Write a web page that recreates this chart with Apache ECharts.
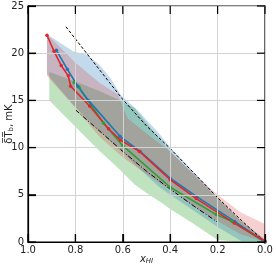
<!DOCTYPE html>
<html><head><meta charset="utf-8">
<script src="https://cdn.jsdelivr.net/npm/echarts@6/dist/echarts.min.js"></script>
<style>html,body{margin:0;padding:0;background:#fff}#c{width:276px;height:266px}</style>
</head><body><div id="c"></div>
<script>
// ---- data ----
const redX   = [0.92, 0.89, 0.86, 0.83, 0.82, 0.74, 0.66, 0.61, 0.53, 0.40, 0.29, 0.13, 0.0];
const redY   = [21.9, 20.2, 18.7, 17.6, 16.5, 14.4, 12.0, 10.8, 9.6, 6.6, 4.6, 2.0, 0.1];
const blueX  = [0.88, 0.834, 0.79, 0.745, 0.612, 0.527, 0.40, 0.288, 0.127, 0.0];
const blueY  = [20.3, 18.3, 16.5, 15.0, 11.2, 9.6, 6.75, 4.8, 2.15, 0.0];
const greenX = [0.805, 0.785, 0.682, 0.60, 0.40, 0.205, 0.14, 0.0];
const greenY = [16.9, 16.4, 12.6, 10.2, 5.8, 2.9, 2.2, 0.0];

const dashX = [0.84, 0.7, 0.6, 0.5, 0.4, 0.3, 0.2, 0.1, 0.0];
const dashY = [22.8, 18.3, 15.1, 12.3, 9.9, 7.3, 4.7, 2.3, 0.0];
const dotX  = [0.8, 0.7, 0.6, 0.5, 0.4, 0.3, 0.2];
const dotY  = [14.0, 11.8, 9.6, 7.5, 5.6, 3.8, 2.1];

const greenBandX  = [0.91, 0.8, 0.7, 0.61, 0.55, 0.5, 0.44, 0.4, 0.3, 0.2, 0.1, 0.0];
const greenBandUp = [18.0, 17.0, 16.0, 15.0, 14.2, 12.6, 10.8, 9.6, 7.1, 4.6, 2.2, 0.2];
const greenBandLo = [15.0, 12.2, 9.7, 7.6, 6.1, 5.2, 4.2, 3.5, 1.9, 0.2, 0.0, 0.0];

const blueBandX  = [0.92, 0.81, 0.75, 0.7, 0.65, 0.61, 0.54, 0.45, 0.4, 0.3, 0.2, 0.1, 0.0];
const blueBandUp = [22.0, 20.2, 19.8, 18.8, 17.3, 15.6, 14.0, 11.6, 10.0, 7.4, 4.7, 2.2, 0.3];
const blueBandLo = [17.8, 14.6, 13.0, 11.8, 10.6, 9.7, 8.0, 5.9, 5.0, 3.3, 1.6, 0.1, 0.0];

const redBandX  = [0.92, 0.8, 0.7, 0.62, 0.58, 0.5, 0.4, 0.3, 0.2, 0.1, 0.0];
const redBandUp = [22.0, 19.0, 16.9, 15.6, 13.1, 11.5, 9.6, 7.2, 5.0, 3.1, 1.9];
const redBandLo = [17.6, 14.2, 11.2, 9.4, 8.6, 7.2, 5.5, 3.8, 2.2, 0.8, 0.0];

const xTickValues = [0.0, 0.2, 0.4, 0.6, 0.8, 1.0];
const xTickLabels = ['0.0', '0.2', '0.4', '0.6', '0.8', '1.0'];
const yTickValues = [0, 5, 10, 15, 20, 25];
const yTickLabels = ['0', '5', '10', '15', '20', '25'];

// ---- chart ----
const zip = (xs, ys) => xs.map((x, i) => [x, ys[i]]);
function band(xs, up, lo, color) {
  return {
    type: 'custom', silent: true, z: 1, clip: true,
    data: [[xs[0], up[0]]],
    renderItem: function (params, api) {
      const pts = [];
      for (let i = 0; i < xs.length; i++) pts.push(api.coord([xs[i], up[i]]));
      for (let i = xs.length - 1; i >= 0; i--) pts.push(api.coord([xs[i], lo[i]]));
      return { type: 'polygon', shape: { points: pts }, style: { fill: color } };
    }
  };
}
function line(xs, ys, color) {
  return {
    type: 'line', data: zip(xs, ys), z: 5, symbol: 'circle', symbolSize: 3.5,
    lineStyle: { color: color, width: 1.6 }, itemStyle: { color: color }, silent: true
  };
}
const TL = 8;
const tickStyle = { stroke: '#000', lineWidth: 1.2 };
function tickSeries(vals, isX) {
  const yMax = yTickValues[yTickValues.length - 1], xMax = xTickValues[xTickValues.length - 1];
  return {
    type: 'custom', silent: true, z: 20, clip: false,
    data: vals.map(v => isX ? [v, 0] : [xMax, v]),
    renderItem: function (params, api) {
      const v = vals[params.dataIndex];
      if (isX) {
        const a = api.coord([v, 0]), b = api.coord([v, yMax]);
        return { type: 'group', children: [
          { type: 'line', shape: { x1: a[0], y1: a[1], x2: a[0], y2: a[1] - TL }, style: tickStyle },
          { type: 'line', shape: { x1: b[0], y1: b[1], x2: b[0], y2: b[1] + TL }, style: tickStyle } ] };
      }
      const a = api.coord([xMax, v]), b = api.coord([0, v]);
      return { type: 'group', children: [
        { type: 'line', shape: { x1: a[0], y1: a[1], x2: a[0] + TL, y2: a[1] }, style: tickStyle },
        { type: 'line', shape: { x1: b[0], y1: b[1], x2: b[0] - TL, y2: b[1] }, style: tickStyle } ] };
    }
  };
}
const mkLine = () => ({ show: true, onZero: false, lineStyle: { color: '#000', width: 1.2 } });
const mkTick = () => ({ show: true, inside: true, length: 8, lineStyle: { color: '#000', width: 1.2 } });
const mkGrid = () => ({ show: true, lineStyle: { color: '#d3d3d3', width: 1 } });
const font = 'DejaVu Sans';

const chart = echarts.init(document.getElementById('c'), null, { renderer: 'canvas' });
chart.setOption({
  animation: false,
  grid: { left: 28, right: 11, top: 6, bottom: 24, containLabel: false, outerBoundsMode: 'none',
    show: true, borderColor: '#000', borderWidth: 1.2, backgroundColor: 'transparent' },
  xAxis: [{
    type: 'value', inverse: true, min: 0, max: 1, interval: 0.2, position: 'bottom', z: 10,
    axisLine: mkLine(), axisTick: mkTick(), splitLine: mkGrid(),
    axisLabel: { fontFamily: font, fontSize: 10, color: '#222', margin: 3,
      formatter: v => xTickLabels[xTickValues.findIndex(t => Math.abs(t - v) < 1e-6)] },
    name: '{i|x}{s|HI}', nameLocation: 'middle', nameGap: 11, nameMoveOverlap: false,
    nameTextStyle: { verticalAlign: 'top', rich: {
      i: { fontFamily: font, fontStyle: 'italic', fontSize: 10, color: '#222' },
      s: { fontFamily: font, fontStyle: 'italic', fontSize: 7, color: '#222', padding: [5, 0, 0, 0] } } }
  }],
  yAxis: [{
    type: 'value', min: 0, max: 25, interval: 5, position: 'left', z: 10,
    axisLine: mkLine(), axisTick: mkTick(), splitLine: mkGrid(),
    axisLabel: { fontFamily: font, fontSize: 10, color: '#222', margin: 4,
      formatter: v => yTickLabels[yTickValues.indexOf(v)] },
    name: '{a|δ̅T̅}{s|b}{a|, mK}', nameLocation: 'middle', nameGap: 13, nameMoveOverlap: false,
    nameTextStyle: { rich: {
      a: { fontFamily: font, fontSize: 10, color: '#222' },
      s: { fontFamily: font, fontSize: 7, color: '#222', padding: [5, 0, 0, 0] } } }
  }],
  series: [
    band(greenBandX, greenBandUp, greenBandLo, 'rgba(44,160,44,0.3)'),
    band(blueBandX, blueBandUp, blueBandLo, 'rgba(31,119,180,0.27)'),
    band(redBandX, redBandUp, redBandLo, 'rgba(214,39,40,0.22)'),
    { type: 'line', data: zip(dashX, dashY), z: 4, symbol: 'none', silent: true,
      lineStyle: { color: '#000', width: 1, type: [3, 2] } },
    { type: 'line', data: zip(dotX, dotY), z: 4, symbol: 'none', silent: true,
      lineStyle: { color: '#000', width: 1, type: [5, 2, 1, 2] } },
    line(greenX, greenY, '#2ca02c'),
    line(blueX, blueY, '#1f77b4'),
    line(redX, redY, '#e0262b'),
    tickSeries(xTickValues, true),
    tickSeries(yTickValues, false)
  ]
});
</script></body></html>
